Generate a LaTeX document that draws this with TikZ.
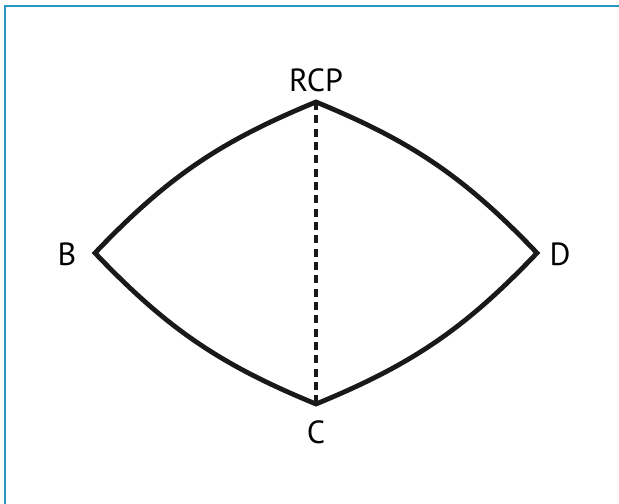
\documentclass[tikz,border=0pt]{standalone}
\usepackage{fontspec}
\setmainfont{PT Sans}
\usetikzlibrary{calc}
\definecolor{framecol}{RGB}{45,150,190}

\begin{document}
\begin{tikzpicture}[x=0.75pt,y=0.75pt,
    side/.style={line width=3.6pt,line join=miter,black!90},
    axis/.style={line width=2.7pt,dash pattern=on 6pt off 4pt,black!90},
    lbl/.style={inner sep=0pt,font=\fontsize{24}{28}\selectfont}]
    \useasboundingbox (0,0) rectangle (619,504);
    \draw[framecol,line width=1.6pt] (5,0)--(5,498)--(619,498);

    % corners of the curved diamond
    \coordinate (rcp) at (316,402);
    \coordinate (b) at (95,251);
    \coordinate (d) at (537,251);
    \coordinate (c) at (316,100);

    \draw[axis] (rcp)--(c);
    \draw[side] (b) to[bend left=12] (rcp) to[bend left=12] (d)
        to[bend left=12] (c) to[bend left=12] (b) -- cycle;

    \node[lbl] (rcplbl) at (316,424) {RCP};
    \node[lbl] (blbl) at (67,250) {B};
    \node[lbl] (dlbl) at (560,250) {D};
    \node[lbl] (clbl) at (316,72) {C};
\end{tikzpicture}
\end{document}
